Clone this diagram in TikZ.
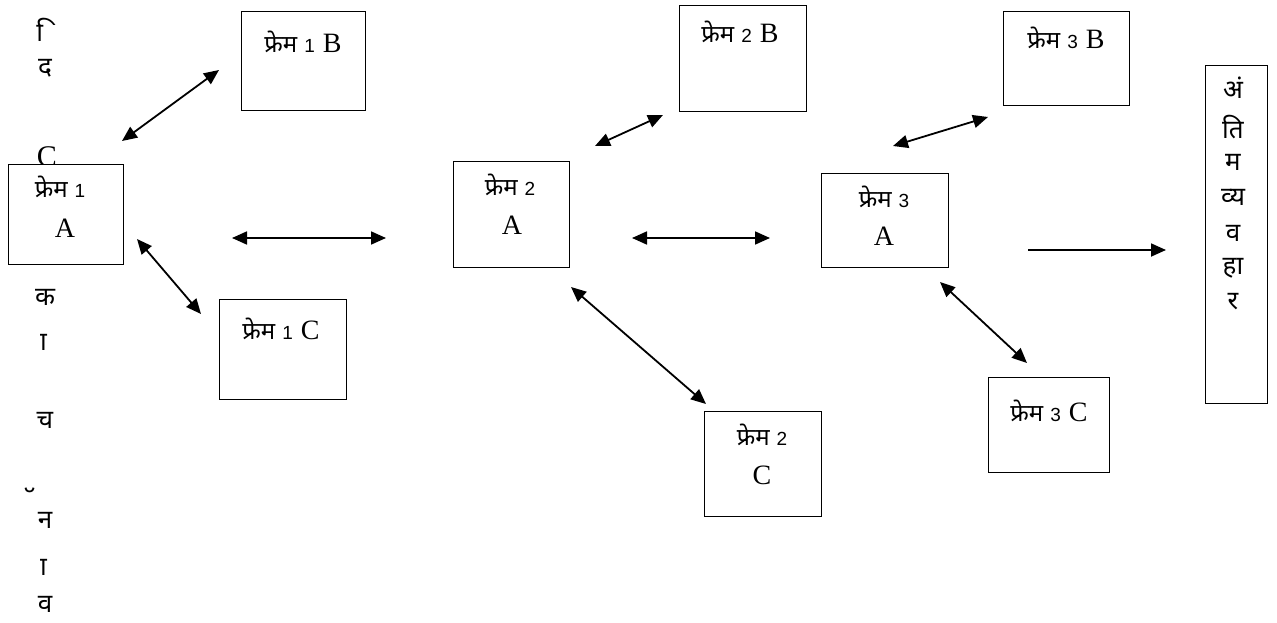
\documentclass[tikz,border=0pt]{standalone}
\usepackage{fontspec}
\newfontfamily\devfont[Script=Devanagari]{Noto Sans}
\newfontfamily\latfont{Liberation Serif}
\newfontfamily\digfont{Liberation Sans}
\usetikzlibrary{arrows.meta}
\newcommand\frm[1]{{\devfont\fontsize{24}{26}\selectfont फ्रेम}\hspace{7pt}{\digfont\fontsize{19}{21}\selectfont #1}}
\newcommand\myLat[1]{{\latfont\fontsize{28}{30}\selectfont #1}}
\tikzset{
  box/.style={draw, line width=1.4pt, fill=white, inner sep=0pt, anchor=north west},
  txt/.style={inner sep=0pt, anchor=base},
  col/.style={inner sep=0pt, anchor=base, font=\devfont\fontsize{26}{28}\selectfont},
  colC/.style={inner sep=0pt, anchor=base, font=\latfont\fontsize{30}{32}\selectfont},
  arr/.style={line width=1.8pt, {Triangle[length=15pt,width=13pt]}-{Triangle[length=15pt,width=13pt]}},
  sarr/.style={line width=1.8pt, -{Triangle[length=15pt,width=13pt]}},
}
\begin{document}
\begin{tikzpicture}[x=1pt,y=-1pt]
\useasboundingbox (0,0) rectangle (1277,623);
% left vertical text column
\node[col] (l1) at (43,42) {^^^^00a0^^^^093f};
\node[col] (l2) at (45,76) {द};
\node[colC] (l3) at (47,166) {C};
\node[col] (l4) at (45,305) {क};
\node[col] (l5) at (40,350) {^^^^00a0^^^^093e};
\node[col] (l6) at (45,428) {च};
\node[col] (l7) at (30,510) {^^^^00a0^^^^0945};
\node[col] (l8) at (45,528) {न};
\node[col] (l9) at (40,575) {^^^^00a0^^^^093e};
\node[col] (l10) at (45,612) {व};
% boxes
\node[box, minimum width=124pt, minimum height=99pt] (f1B) at (241,11) {};
\node[box, minimum width=115pt, minimum height=100pt] (f1A) at (8,164) {};
\node[box, minimum width=127pt, minimum height=100pt] (f1C) at (219,299) {};
\node[box, minimum width=116pt, minimum height=106pt] (f2A) at (453,161) {};
\node[box, minimum width=127pt, minimum height=106pt] (f2B) at (679,5) {};
\node[box, minimum width=117pt, minimum height=105pt] (f2C) at (704,411) {};
\node[box, minimum width=127pt, minimum height=94pt] (f3A) at (821,173) {};
\node[box, minimum width=126pt, minimum height=94pt] (f3B) at (1003,11) {};
\node[box, minimum width=121pt, minimum height=95pt] (f3C) at (988,377) {};
\node[box, minimum width=62pt, minimum height=338pt] (fin) at (1205,65) {};
% box texts
\node[txt] (t1B) at (303,53) {\frm{1}\hspace{8pt}\myLat{B}};
\node[txt] (t1A1) at (60,197) {\frm{1}};
\node[txt] (t1A2) at (65,237) {\myLat{A}};
\node[txt] (t1C) at (281,339) {\frm{1}\hspace{8pt}\myLat{C}};
\node[txt] (t2A1) at (510,195) {\frm{2}};
\node[txt] (t2A2) at (512,234) {\myLat{A}};
\node[txt] (t2B) at (740,43) {\frm{2}\hspace{8pt}\myLat{B}};
\node[txt] (t2C1) at (762,445) {\frm{2}};
\node[txt] (t2C2) at (762,484) {\myLat{C}};
\node[txt] (t3A1) at (884,207) {\frm{3}};
\node[txt] (t3A2) at (884,245) {\myLat{A}};
\node[txt] (t3B) at (1066,49) {\frm{3}\hspace{8pt}\myLat{B}};
\node[txt] (t3C) at (1049,421) {\frm{3}\hspace{8pt}\myLat{C}};
% final column text
\node[col] (r1) at (1233,99) {अं};
\node[col] (r2) at (1233,139) {ति};
\node[col] (r3) at (1233,171) {म};
\node[col] (r4) at (1233,205) {व्य};
\node[col] (r5) at (1233,241) {व};
\node[col] (r6) at (1233,274) {हा};
\node[col] (r7) at (1233,309) {र};
% connectors
\coordinate (a1s) at (219,70);  \coordinate (a1e) at (122,141);
\coordinate (a2s) at (137,239); \coordinate (a2e) at (201,314);
\coordinate (a3s) at (232,238); \coordinate (a3e) at (386,238);
\coordinate (a4s) at (595,146); \coordinate (a4e) at (663,115);
\coordinate (a5s) at (632,238); \coordinate (a5e) at (770,238);
\coordinate (a6s) at (571,287); \coordinate (a6e) at (706,404);
\coordinate (a7s) at (893,146); \coordinate (a7e) at (988,117);
\coordinate (a8s) at (940,282); \coordinate (a8e) at (1027,363);
\coordinate (a9s) at (1028,250); \coordinate (a9e) at (1166,250);
\draw[arr] (a1s) -- (a1e);
\draw[arr] (a2s) -- (a2e);
\draw[arr] (a3s) -- (a3e);
\draw[arr] (a4s) -- (a4e);
\draw[arr] (a5s) -- (a5e);
\draw[arr] (a6s) -- (a6e);
\draw[arr] (a7s) -- (a7e);
\draw[arr] (a8s) -- (a8e);
\draw[sarr] (a9s) -- (a9e);
\end{tikzpicture}
\end{document}
